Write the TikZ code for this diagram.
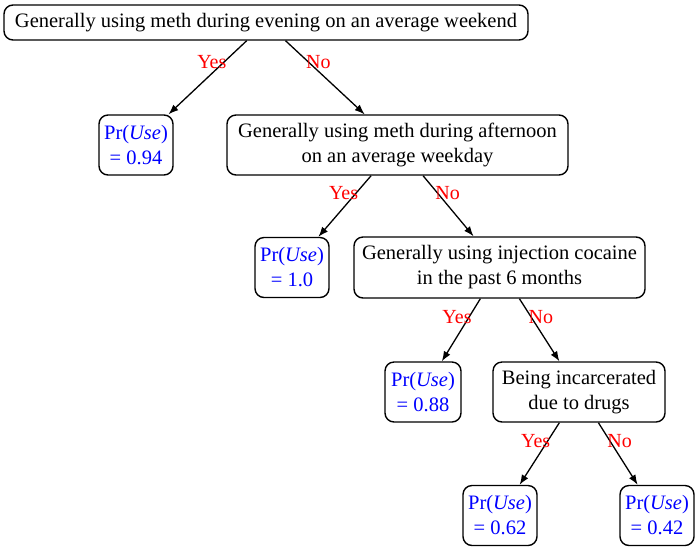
\documentclass[tikz,border=0pt]{standalone}
\usepackage{fontspec}
\setmainfont{Liberation Serif}
\usetikzlibrary{arrows.meta}
\begin{document}
\begin{tikzpicture}[x=1pt,y=-1pt,
  box/.style={draw, rounded corners=9pt, line width=1.4pt, inner sep=0pt, align=center,
    font=\fontsize{20.5}{25}\selectfont},
  leaf/.style={box, text=blue, minimum width=74pt, minimum height=60pt},
  edge/.style={line width=1.3pt, -{Latex[length=10pt,width=7.5pt]}},
  yes/.style={text=red, font=\fontsize{20}{22}\selectfont, inner sep=0pt, anchor=east, xshift=3pt, pos=0.29},
  no/.style={text=red, font=\fontsize{20}{22}\selectfont, inner sep=0pt, anchor=west, xshift=-3pt, pos=0.29}]
\useasboundingbox (0,0) rectangle (700,550);
\node[box, minimum width=524pt, minimum height=35pt] (root) at (266,22.5) {Generally using meth during evening on an average weekend};
\node[leaf] (l1) at (136,145) {Pr(\textit{Use})\\= 0.94};
\node[box, minimum width=341pt, minimum height=60pt] (n2) at (397.5,145) {Generally using meth during afternoon\\on an average weekday};
\node[leaf] (l2) at (292,267.5) {Pr(\textit{Use})\\= 1.0};
\node[box, minimum width=291pt, minimum height=61pt] (n3) at (499.5,267.5) {Generally using injection cocaine\\in the past 6 months};
\node[leaf, minimum width=76pt] (l3) at (423,392) {Pr(\textit{Use})\\= 0.88};
\node[box, minimum width=172pt, minimum height=60pt] (n4) at (579,392) {Being incarcerated\\due to drugs};
\node[leaf] (l4) at (500,515.5) {Pr(\textit{Use})\\= 0.62};
\node[leaf] (l5) at (657,515.5) {Pr(\textit{Use})\\= 0.42};
\draw[edge] (root) -- node[yes] {Yes} (l1);
\draw[edge] (root) -- node[no] {No} (n2);
\draw[edge] (n2) -- node[yes] {Yes} (l2);
\draw[edge] (n2) -- node[no] {No} (n3);
\draw[edge] (n3) -- node[yes] {Yes} (l3);
\draw[edge] (n3) -- node[no] {No} (n4);
\draw[edge] (n4) -- node[yes] {Yes} (l4);
\draw[edge] (n4) -- node[no] {No} (l5);
\end{tikzpicture}
\end{document}
